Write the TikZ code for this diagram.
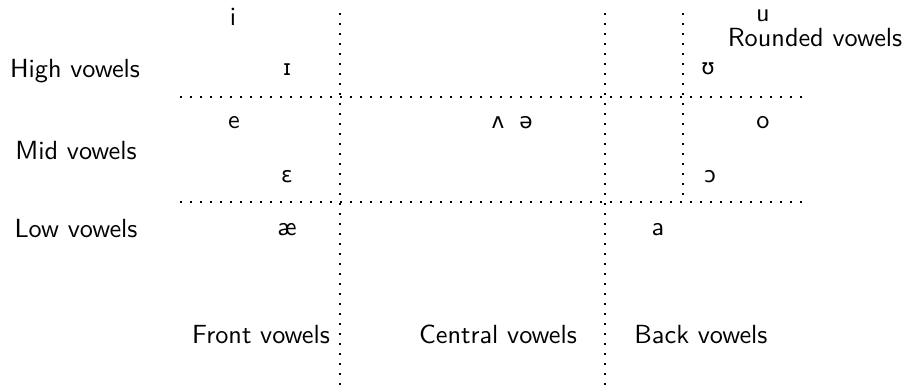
\documentclass[tikz,border=0pt]{standalone}
\usepackage{fontspec}
\newfontfamily\ipafont{DejaVu Sans}[Scale=0.82]
\begin{document}
\begin{tikzpicture}[x=0.4pt,y=-0.4pt,
  every node/.style={font=\sffamily\fontsize{10.5}{12}\selectfont, inner sep=0pt, anchor=base},
  ipa/.style={font=\ipafont\fontsize{10.5}{12}\selectfont},
  dotline/.style={line width=0.65pt, dash pattern=on 0.65pt off 3.35pt}]
\useasboundingbox (0,0) rectangle (908,387);

% grid lines
\coordinate (v1t) at (340,13);  \coordinate (v1b) at (340,387);
\coordinate (v2t) at (605,13);  \coordinate (v2b) at (605,387);
\coordinate (v3t) at (683,13);  \coordinate (v3b) at (683,200);
\coordinate (h1l) at (180,97);  \coordinate (h1r) at (810,97);
\coordinate (h2l) at (180,202); \coordinate (h2r) at (810,202);
\draw[dotline] (v1t) -- (v1b);
\draw[dotline] (v2t) -- (v2b);
\draw[dotline] (v3t) -- (v3b);
\draw[dotline] (h1l) -- (h1r);
\draw[dotline] (h2l) -- (h2r);

% row labels
\node (high) at (75,77) {High vowels};
\node (mid) at (76,159) {Mid vowels};
\node (low) at (76,237) {Low vowels};

% column labels
\node (front) at (261,343) {Front vowels};
\node (central) at (498,343) {Central vowels};
\node (back) at (701,343) {Back vowels};
\node (rounded) at (815,46) {Rounded vowels};

% vowels
\node (i) at (233,25) {i};
\node[ipa] (smallI) at (287,75) {ɪ};
\node (u) at (763,21) {u};
\node[ipa] (upsilon) at (708,74) {ʊ};
\node (e) at (234,128) {e};
\node[ipa] (wedge) at (498,128) {ʌ};
\node[ipa] (schwa) at (526,128) {ə};
\node (o) at (763,128) {o};
\node[ipa] (epsilon) at (287,182) {ɛ};
\node[ipa] (openo) at (710,182) {ɔ};
\node (ae) at (287,235) {æ};
\node (a) at (658,235) {a};
\end{tikzpicture}
\end{document}
